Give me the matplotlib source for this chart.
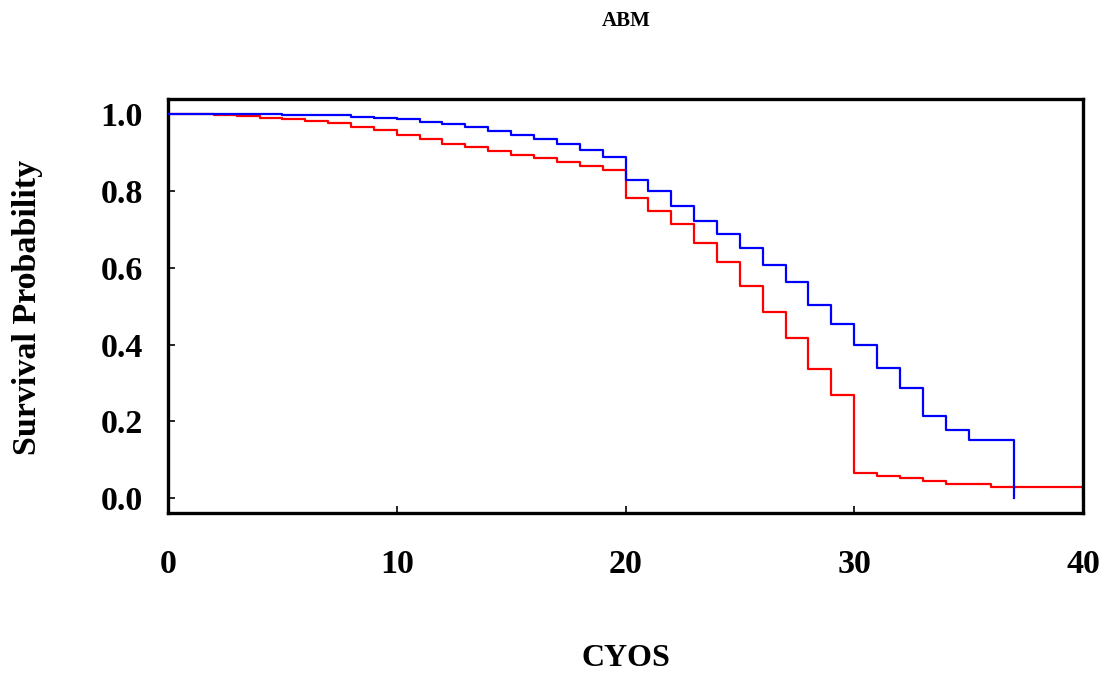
import matplotlib
matplotlib.use("Agg")
import matplotlib.pyplot as plt

# Kaplan-Meier style survival curves (step, post)
blue_times = [0, 4, 5, 6, 7, 8, 9, 10, 11, 12, 13, 14, 15, 16, 17, 18, 19,
              20, 21, 22, 23, 24, 25, 26, 27, 28, 29, 30, 31, 32, 33, 34, 35, 37]
blue_surv = [1.0, 0.999, 0.998, 0.997, 0.996, 0.993, 0.990, 0.986, 0.980, 0.973,
             0.965, 0.956, 0.946, 0.935, 0.921, 0.905, 0.887, 0.829, 0.799, 0.761,
             0.722, 0.688, 0.652, 0.608, 0.564, 0.503, 0.454, 0.398, 0.339, 0.288,
             0.214, 0.178, 0.153, 0.0]

red_times = [0, 2, 3, 4, 5, 6, 7, 8, 9, 10, 11, 12, 13, 14, 15, 16, 17, 18, 19,
             20, 21, 22, 23, 24, 25, 26, 27, 28, 29, 30, 31, 32, 33, 34, 36, 40]
red_surv = [1.0, 0.998, 0.995, 0.990, 0.986, 0.981, 0.975, 0.967, 0.958, 0.946,
            0.934, 0.922, 0.913, 0.904, 0.894, 0.886, 0.876, 0.865, 0.853, 0.781,
            0.748, 0.713, 0.665, 0.615, 0.553, 0.484, 0.418, 0.337, 0.269, 0.065,
            0.058, 0.054, 0.044, 0.037, 0.030, 0.0]

x_ticks = [0, 10, 20, 30, 40]
y_ticks = [0.0, 0.2, 0.4, 0.6, 0.8, 1.0]

plt.rcParams["font.family"] = ["Liberation Serif", "DejaVu Serif"]
plt.rcParams["font.weight"] = "bold"

W, H = 1107, 680
fig = plt.figure(figsize=(W / 100, H / 100), dpi=100)
ax = fig.add_axes([168 / W, 1 - 513 / H, (1083 - 168) / W, (513 - 98.5) / H])

ax.step(red_times, red_surv, where="post", color="#ff0000", linewidth=1.6, zorder=2)
ax.step(blue_times, blue_surv, where="post", color="#0000ff", linewidth=1.6, zorder=3)

ax.set_xlim(0, 40)
ax.set_ylim(-0.038, 1.04)
ax.set_xticks(x_ticks)
ax.set_yticks(y_ticks)
ax.set_xticklabels([str(t) for t in x_ticks])
ax.set_yticklabels([f"{t:.1f}" for t in y_ticks])

for s in ax.spines.values():
    s.set_linewidth(2.4)
ax.tick_params(axis="both", direction="in", length=5, width=1.2,
               labelsize=24.5, top=False, right=False)
ax.tick_params(axis="y", pad=18)
ax.tick_params(axis="x", pad=26)

# axis titles and header placed in figure pixels
fig.text(28 / W, 1 - 307 / H, "Survival Probability", rotation=90,
         ha="center", va="center", fontsize=24.5, fontweight="bold")
fig.text(626 / W, 1 - 658 / H, "CYOS", ha="center", va="center",
         fontsize=23, fontweight="bold")
fig.text(626 / W, 1 - 21 / H, "ABM", ha="center", va="center",
         fontsize=15, fontweight="bold")

fig.savefig("out.png", dpi=100)
